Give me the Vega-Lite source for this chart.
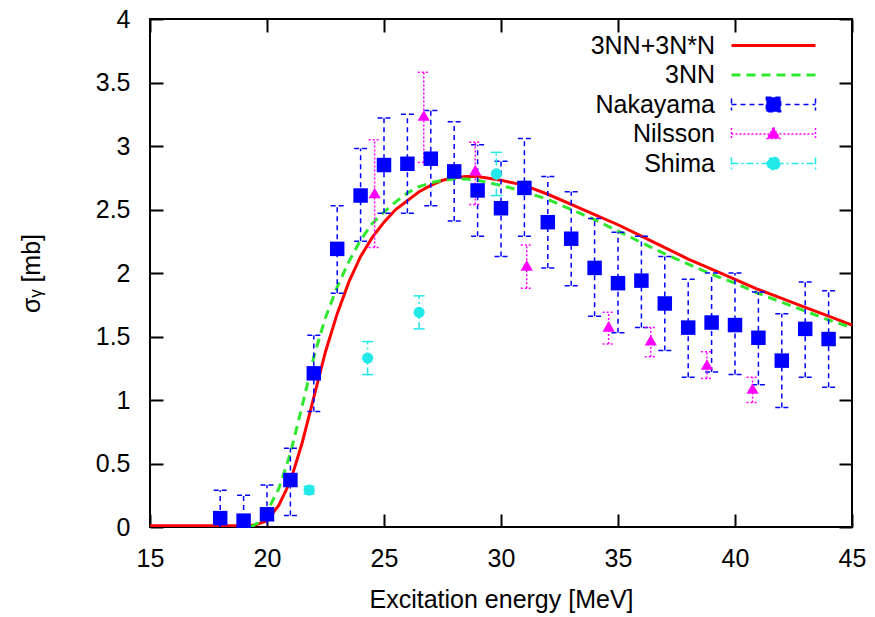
{
  "$schema": "https://vega.github.io/schema/vega-lite/v6.json",
  "width": 702,
  "height": 508,
  "autosize": {"type": "none"},
  "padding": {"left": 150, "top": 19, "right": 23, "bottom": 90},
  "background": "white",
  "config": {
    "font": "Liberation Sans",
    "view": {"stroke": "#000", "strokeWidth": 2},
    "axis": {"grid": false, "domain": false, "labelFlush": false, "labelOverlap": false, "tickColor": "#000", "tickWidth": 2, "labelColor": "#000", "titleColor": "#000", "labelFont": "Liberation Sans", "titleFont": "Liberation Sans", "titleFontWeight": "normal"}
  },
  "datasets": {
    "curves": [
      {"E": 15, "sigma": 0.01, "series": "3NN+3N*N"},
      {"E": 16, "sigma": 0.01, "series": "3NN+3N*N"},
      {"E": 17, "sigma": 0.01, "series": "3NN+3N*N"},
      {"E": 18, "sigma": 0.01, "series": "3NN+3N*N"},
      {"E": 19, "sigma": 0.01, "series": "3NN+3N*N"},
      {"E": 19.5, "sigma": 0.015, "series": "3NN+3N*N"},
      {"E": 20, "sigma": 0.05, "series": "3NN+3N*N"},
      {"E": 20.5, "sigma": 0.17, "series": "3NN+3N*N"},
      {"E": 21, "sigma": 0.36, "series": "3NN+3N*N"},
      {"E": 21.5, "sigma": 0.66, "series": "3NN+3N*N"},
      {"E": 22, "sigma": 1.02, "series": "3NN+3N*N"},
      {"E": 22.5, "sigma": 1.38, "series": "3NN+3N*N"},
      {"E": 23, "sigma": 1.68, "series": "3NN+3N*N"},
      {"E": 23.5, "sigma": 1.93, "series": "3NN+3N*N"},
      {"E": 24, "sigma": 2.13, "series": "3NN+3N*N"},
      {"E": 24.5, "sigma": 2.28, "series": "3NN+3N*N"},
      {"E": 25, "sigma": 2.4, "series": "3NN+3N*N"},
      {"E": 25.5, "sigma": 2.5, "series": "3NN+3N*N"},
      {"E": 26, "sigma": 2.57, "series": "3NN+3N*N"},
      {"E": 26.5, "sigma": 2.64, "series": "3NN+3N*N"},
      {"E": 27, "sigma": 2.69, "series": "3NN+3N*N"},
      {"E": 27.5, "sigma": 2.73, "series": "3NN+3N*N"},
      {"E": 28, "sigma": 2.75, "series": "3NN+3N*N"},
      {"E": 28.5, "sigma": 2.76, "series": "3NN+3N*N"},
      {"E": 29, "sigma": 2.76, "series": "3NN+3N*N"},
      {"E": 30, "sigma": 2.73, "series": "3NN+3N*N"},
      {"E": 31, "sigma": 2.69, "series": "3NN+3N*N"},
      {"E": 32, "sigma": 2.62, "series": "3NN+3N*N"},
      {"E": 33, "sigma": 2.54, "series": "3NN+3N*N"},
      {"E": 34, "sigma": 2.46, "series": "3NN+3N*N"},
      {"E": 35, "sigma": 2.38, "series": "3NN+3N*N"},
      {"E": 36, "sigma": 2.29, "series": "3NN+3N*N"},
      {"E": 37, "sigma": 2.2, "series": "3NN+3N*N"},
      {"E": 38, "sigma": 2.11, "series": "3NN+3N*N"},
      {"E": 39, "sigma": 2.03, "series": "3NN+3N*N"},
      {"E": 40, "sigma": 1.95, "series": "3NN+3N*N"},
      {"E": 41, "sigma": 1.87, "series": "3NN+3N*N"},
      {"E": 42, "sigma": 1.8, "series": "3NN+3N*N"},
      {"E": 43, "sigma": 1.73, "series": "3NN+3N*N"},
      {"E": 44, "sigma": 1.66, "series": "3NN+3N*N"},
      {"E": 45, "sigma": 1.59, "series": "3NN+3N*N"},
      {"E": 19.3, "sigma": 0.0, "series": "3NN"},
      {"E": 19.6, "sigma": 0.03, "series": "3NN"},
      {"E": 20, "sigma": 0.12, "series": "3NN"},
      {"E": 20.5, "sigma": 0.3, "series": "3NN"},
      {"E": 21, "sigma": 0.58, "series": "3NN"},
      {"E": 21.5, "sigma": 0.95, "series": "3NN"},
      {"E": 22, "sigma": 1.34, "series": "3NN"},
      {"E": 22.5, "sigma": 1.65, "series": "3NN"},
      {"E": 23, "sigma": 1.89, "series": "3NN"},
      {"E": 23.5, "sigma": 2.09, "series": "3NN"},
      {"E": 24, "sigma": 2.26, "series": "3NN"},
      {"E": 24.5, "sigma": 2.39, "series": "3NN"},
      {"E": 25, "sigma": 2.48, "series": "3NN"},
      {"E": 25.5, "sigma": 2.56, "series": "3NN"},
      {"E": 26, "sigma": 2.63, "series": "3NN"},
      {"E": 26.5, "sigma": 2.68, "series": "3NN"},
      {"E": 27, "sigma": 2.71, "series": "3NN"},
      {"E": 27.5, "sigma": 2.73, "series": "3NN"},
      {"E": 28, "sigma": 2.74, "series": "3NN"},
      {"E": 28.5, "sigma": 2.74, "series": "3NN"},
      {"E": 29, "sigma": 2.73, "series": "3NN"},
      {"E": 30, "sigma": 2.69, "series": "3NN"},
      {"E": 31, "sigma": 2.64, "series": "3NN"},
      {"E": 32, "sigma": 2.58, "series": "3NN"},
      {"E": 33, "sigma": 2.5, "series": "3NN"},
      {"E": 34, "sigma": 2.42, "series": "3NN"},
      {"E": 35, "sigma": 2.33, "series": "3NN"},
      {"E": 36, "sigma": 2.24, "series": "3NN"},
      {"E": 37, "sigma": 2.15, "series": "3NN"},
      {"E": 38, "sigma": 2.07, "series": "3NN"},
      {"E": 39, "sigma": 1.99, "series": "3NN"},
      {"E": 40, "sigma": 1.92, "series": "3NN"},
      {"E": 41, "sigma": 1.84, "series": "3NN"},
      {"E": 42, "sigma": 1.77, "series": "3NN"},
      {"E": 43, "sigma": 1.7, "series": "3NN"},
      {"E": 44, "sigma": 1.63, "series": "3NN"},
      {"E": 45, "sigma": 1.57, "series": "3NN"}
    ],
    "exp": [
      {"E": 18, "sigma": 0.07, "lo": -0.15, "hi": 0.29, "series": "Nakayama"},
      {"E": 19, "sigma": 0.05, "lo": -0.15, "hi": 0.25, "series": "Nakayama"},
      {"E": 20, "sigma": 0.1, "lo": -0.12, "hi": 0.33, "series": "Nakayama"},
      {"E": 21, "sigma": 0.37, "lo": 0.09, "hi": 0.62, "series": "Nakayama"},
      {"E": 22, "sigma": 1.21, "lo": 0.91, "hi": 1.51, "series": "Nakayama"},
      {"E": 23, "sigma": 2.19, "lo": 1.84, "hi": 2.53, "series": "Nakayama"},
      {"E": 24, "sigma": 2.61, "lo": 2.25, "hi": 2.98, "series": "Nakayama"},
      {"E": 25, "sigma": 2.85, "lo": 2.47, "hi": 3.22, "series": "Nakayama"},
      {"E": 26, "sigma": 2.86, "lo": 2.47, "hi": 3.25, "series": "Nakayama"},
      {"E": 27, "sigma": 2.9, "lo": 2.53, "hi": 3.28, "series": "Nakayama"},
      {"E": 28, "sigma": 2.8, "lo": 2.41, "hi": 3.19, "series": "Nakayama"},
      {"E": 29, "sigma": 2.65, "lo": 2.29, "hi": 3.01, "series": "Nakayama"},
      {"E": 30, "sigma": 2.51, "lo": 2.13, "hi": 2.88, "series": "Nakayama"},
      {"E": 31, "sigma": 2.67, "lo": 2.29, "hi": 3.06, "series": "Nakayama"},
      {"E": 32, "sigma": 2.4, "lo": 2.04, "hi": 2.76, "series": "Nakayama"},
      {"E": 33, "sigma": 2.27, "lo": 1.9, "hi": 2.64, "series": "Nakayama"},
      {"E": 34, "sigma": 2.04, "lo": 1.66, "hi": 2.43, "series": "Nakayama"},
      {"E": 35, "sigma": 1.92, "lo": 1.53, "hi": 2.32, "series": "Nakayama"},
      {"E": 36, "sigma": 1.94, "lo": 1.57, "hi": 2.29, "series": "Nakayama"},
      {"E": 37, "sigma": 1.76, "lo": 1.39, "hi": 2.13, "series": "Nakayama"},
      {"E": 38, "sigma": 1.57, "lo": 1.18, "hi": 1.95, "series": "Nakayama"},
      {"E": 39, "sigma": 1.61, "lo": 1.22, "hi": 2.0, "series": "Nakayama"},
      {"E": 40, "sigma": 1.59, "lo": 1.2, "hi": 2.0, "series": "Nakayama"},
      {"E": 41, "sigma": 1.49, "lo": 1.12, "hi": 1.85, "series": "Nakayama"},
      {"E": 42, "sigma": 1.31, "lo": 0.94, "hi": 1.68, "series": "Nakayama"},
      {"E": 43, "sigma": 1.56, "lo": 1.18, "hi": 1.93, "series": "Nakayama"},
      {"E": 44, "sigma": 1.48, "lo": 1.1, "hi": 1.86, "series": "Nakayama"},
      {"E": 24.6, "sigma": 2.63, "lo": 2.2, "hi": 3.05, "series": "Nilsson"},
      {"E": 26.7, "sigma": 3.24, "lo": 2.87, "hi": 3.58, "series": "Nilsson"},
      {"E": 28.9, "sigma": 2.81, "lo": 2.54, "hi": 3.03, "series": "Nilsson"},
      {"E": 31.1, "sigma": 2.06, "lo": 1.88, "hi": 2.22, "series": "Nilsson"},
      {"E": 34.6, "sigma": 1.58, "lo": 1.44, "hi": 1.69, "series": "Nilsson"},
      {"E": 36.4, "sigma": 1.47, "lo": 1.34, "hi": 1.57, "series": "Nilsson"},
      {"E": 38.8, "sigma": 1.28, "lo": 1.17, "hi": 1.38, "series": "Nilsson"},
      {"E": 40.75, "sigma": 1.09, "lo": 0.98, "hi": 1.18, "series": "Nilsson"},
      {"E": 21.8, "sigma": 0.29, "lo": 0.26, "hi": 0.32, "series": "Shima"},
      {"E": 24.3, "sigma": 1.33, "lo": 1.2, "hi": 1.46, "series": "Shima"},
      {"E": 26.5, "sigma": 1.69, "lo": 1.56, "hi": 1.82, "series": "Shima"},
      {"E": 29.8, "sigma": 2.78, "lo": 2.61, "hi": 2.95, "series": "Shima"}
    ]
  },
  "layer": [
    {
      "data": {"name": "curves"},
      "transform": [{"filter": "datum.series === '3NN+3N*N'"}],
      "mark": {"type": "line", "strokeWidth": 3, "clip": true},
      "encoding": {
        "x": {"field": "E", "type": "quantitative", "scale": {"domain": [15, 45], "nice": false, "zero": false},
              "axis": {"orient": "top", "values": [15, 20, 25, 30, 35, 40, 45], "labels": false, "tickSize": -13, "title": null}},
        "y": {"field": "sigma", "type": "quantitative", "scale": {"domain": [0, 4], "nice": false},
              "axis": {"orient": "right", "values": [0, 0.5, 1, 1.5, 2, 2.5, 3, 3.5, 4], "labels": false, "tickSize": -13, "title": null}},
        "color": {
          "field": "series", "type": "nominal",
          "scale": {"domain": ["3NN+3N*N", "3NN", "Nakayama", "Nilsson", "Shima"], "range": ["#ff0000", "#2ee82e", "#0000ff", "#ff00ff", "#22e8e8"]},
          "legend": {
            "orient": "none", "legendX": 611, "legendY": 14, "title": null, "padding": 0,
            "labelFontSize": 25, "labelFont": "Liberation Sans", "labelColor": "#000", "labelLimit": 400,
            "symbolSize": 7056, "rowPadding": 3.5,
            "encode": {
              "symbols": {"update": {
                "shape": {"signal": "datum.value === 'Nakayama' ? 'M-1,0H1M-1,-0.14V0.14M1,-0.14V0.14M-0.17,-0.17H0.17V0.17H-0.17Z' : datum.value === 'Nilsson' ? 'M-1,0H1M-1,-0.14V0.14M1,-0.14V0.14M0,-0.16L0.15,0.11H-0.15Z' : datum.value === 'Shima' ? 'M-1,0H1M-1,-0.14V0.14M1,-0.14V0.14M0.15,0A0.15,0.15,0,1,1,-0.15,0A0.15,0.15,0,1,1,0.15,0Z' : 'M-1,0H1'"},
                "size": {"value": 7056},
                "stroke": {"scale": "color", "field": "value"},
                "fill": {"scale": "color", "field": "value"},
                "strokeWidth": {"signal": "datum.value === '3NN+3N*N' || datum.value === '3NN' ? 3 : 1.5"},
                "strokeDash": {"signal": "datum.value === '3NN' ? [9, 6] : datum.value === 'Nakayama' ? [5, 4] : datum.value === 'Nilsson' ? [2, 2] : datum.value === 'Shima' ? [7, 3, 2, 3] : [1, 0]"},
                "opacity": {"value": 1}
              }},
              "labels": {"update": {"x": {"value": -46}, "align": {"value": "right"}}}
            }
          }
        }
      }
    },
    {
      "layer": [
        {
          "data": {"name": "curves"},
          "transform": [{"filter": "datum.series === '3NN'"}],
          "mark": {"type": "line", "strokeWidth": 3, "strokeDash": [9, 6], "clip": true},
          "encoding": {
            "x": {"field": "E", "type": "quantitative", "title": "Excitation energy [MeV]",
                  "axis": {"orient": "bottom", "values": [15, 20, 25, 30, 35, 40, 45], "format": "~g", "tickSize": -13, "labelPadding": 32, "labelFontSize": 25, "titleFontSize": 25, "titlePadding": 16}},
            "y": {"field": "sigma", "type": "quantitative", "title": "σᵧ [mb]",
                  "axis": {"orient": "left", "values": [0, 0.5, 1, 1.5, 2, 2.5, 3, 3.5, 4], "format": "~g", "tickSize": -13, "labelPadding": 33, "labelFontSize": 25, "titleFontSize": 25, "titlePadding": 51}},
            "color": {"field": "series", "type": "nominal"}
          }
        },
        {
          "data": {"name": "exp"},
          "transform": [{"filter": "datum.series === 'Nakayama'"}],
          "mark": {"type": "rule", "strokeWidth": 1.5, "strokeDash": [5, 4], "clip": true},
          "encoding": {
            "x": {"field": "E", "type": "quantitative", "title": "Excitation energy [MeV]"},
            "y": {"field": "lo", "type": "quantitative", "title": "σᵧ [mb]"},
            "y2": {"field": "hi"},
            "color": {"field": "series", "type": "nominal"}
          }
        },
        {
          "data": {"name": "exp"},
          "transform": [{"filter": "datum.series === 'Nakayama'"}, {"fold": ["lo", "hi"], "as": ["bound", "yv"]}],
          "mark": {"type": "rule", "strokeWidth": 1.5, "strokeDash": [5, 3], "xOffset": -6.5, "x2Offset": 6.5, "clip": true},
          "encoding": {
            "x": {"field": "E", "type": "quantitative", "title": "Excitation energy [MeV]"},
            "x2": {"field": "E"},
            "y": {"field": "yv", "type": "quantitative", "title": "σᵧ [mb]"},
            "color": {"field": "series", "type": "nominal"}
          }
        },
        {
          "data": {"name": "exp"},
          "transform": [{"filter": "datum.series === 'Nilsson'"}],
          "mark": {"type": "rule", "strokeWidth": 1.5, "strokeDash": [2, 2], "clip": true},
          "encoding": {
            "x": {"field": "E", "type": "quantitative", "title": "Excitation energy [MeV]"},
            "y": {"field": "lo", "type": "quantitative", "title": "σᵧ [mb]"},
            "y2": {"field": "hi"},
            "color": {"field": "series", "type": "nominal"}
          }
        },
        {
          "data": {"name": "exp"},
          "transform": [{"filter": "datum.series === 'Nilsson'"}, {"fold": ["lo", "hi"], "as": ["bound", "yv"]}],
          "mark": {"type": "rule", "strokeWidth": 1.5, "strokeDash": [2, 2], "xOffset": -6, "x2Offset": 6, "clip": true},
          "encoding": {
            "x": {"field": "E", "type": "quantitative", "title": "Excitation energy [MeV]"},
            "x2": {"field": "E"},
            "y": {"field": "yv", "type": "quantitative", "title": "σᵧ [mb]"},
            "color": {"field": "series", "type": "nominal"}
          }
        },
        {
          "data": {"name": "exp"},
          "transform": [{"filter": "datum.series === 'Shima'"}],
          "mark": {"type": "rule", "strokeWidth": 1.5, "strokeDash": [7, 3, 2, 3], "clip": true},
          "encoding": {
            "x": {"field": "E", "type": "quantitative", "title": "Excitation energy [MeV]"},
            "y": {"field": "lo", "type": "quantitative", "title": "σᵧ [mb]"},
            "y2": {"field": "hi"},
            "color": {"field": "series", "type": "nominal"}
          }
        },
        {
          "data": {"name": "exp"},
          "transform": [{"filter": "datum.series === 'Shima'"}, {"fold": ["lo", "hi"], "as": ["bound", "yv"]}],
          "mark": {"type": "rule", "strokeWidth": 1.5, "xOffset": -5.5, "x2Offset": 5.5, "clip": true},
          "encoding": {
            "x": {"field": "E", "type": "quantitative", "title": "Excitation energy [MeV]"},
            "x2": {"field": "E"},
            "y": {"field": "yv", "type": "quantitative", "title": "σᵧ [mb]"},
            "color": {"field": "series", "type": "nominal"}
          }
        },
        {
          "data": {"name": "exp"},
          "transform": [{"filter": "datum.series === 'Nakayama'"}],
          "mark": {"type": "point", "shape": "square", "filled": true, "size": 210, "opacity": 1},
          "encoding": {
            "x": {"field": "E", "type": "quantitative", "title": "Excitation energy [MeV]"},
            "y": {"field": "sigma", "type": "quantitative", "title": "σᵧ [mb]"},
            "color": {"field": "series", "type": "nominal"}
          }
        },
        {
          "data": {"name": "exp"},
          "transform": [{"filter": "datum.series === 'Nilsson'"}],
          "mark": {"type": "point", "shape": "triangle-up", "filled": true, "size": 150, "opacity": 1},
          "encoding": {
            "x": {"field": "E", "type": "quantitative", "title": "Excitation energy [MeV]"},
            "y": {"field": "sigma", "type": "quantitative", "title": "σᵧ [mb]"},
            "color": {"field": "series", "type": "nominal"}
          }
        },
        {
          "data": {"name": "exp"},
          "transform": [{"filter": "datum.series === 'Shima'"}],
          "mark": {"type": "point", "shape": "circle", "filled": true, "size": 125, "opacity": 1},
          "encoding": {
            "x": {"field": "E", "type": "quantitative", "title": "Excitation energy [MeV]"},
            "y": {"field": "sigma", "type": "quantitative", "title": "σᵧ [mb]"},
            "color": {"field": "series", "type": "nominal"}
          }
        }
      ]
    }
  ],
  "resolve": {"axis": {"x": "independent", "y": "independent"}}
}
